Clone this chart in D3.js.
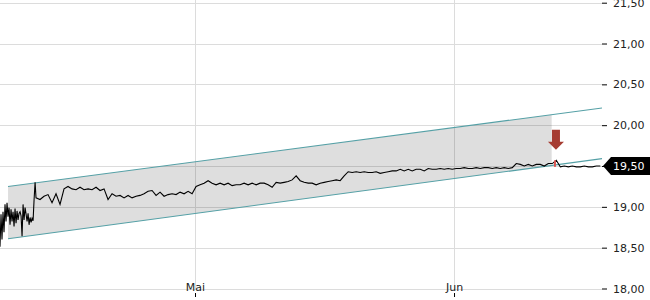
<!DOCTYPE html>
<html>
<head>
<meta charset="utf-8">
<script src="https://cdn.jsdelivr.net/npm/d3@7"></script>
<style>
  body { margin: 0; background: #fff; }
  svg { display: block; font-family: "DejaVu Sans", sans-serif; }
</style>
</head>
<body>
<script>
// Size
var w = 650,
    h = 300,
    plotRight = 602;

// Data: days counted from 1 April (day 0), prices in EUR

// first hours, very choppy (one quote about every 0.12 day)
var earlyStart = 6.66, earlyStep = 0.12;
var earlyPrices = [
  18.51, 18.91, 18.60, 18.94, 18.69, 19.03, 18.82, 19.05, 18.88, 18.99,
  18.78, 18.97, 18.82, 18.94, 18.76, 18.98, 18.80, 18.95, 18.84, 18.92,
  18.94, 18.89, 18.64, 19.03, 18.84, 18.99, 18.91, 18.82, 18.92, 18.78,
  18.87, 18.81, 18.86, 18.83, 19.09, 19.30
];

// rest of the period (one quote about every 0.48 day)
var mainStart = 10.97, mainStep = 0.479;
var prices = [
  19.11, 19.09, 19.13, 19.15, 19.05, 19.16, 19.03, 19.22, 19.25, 19.22,
  19.21, 19.24, 19.21, 19.22, 19.21, 19.24, 19.20, 19.22, 19.09, 19.16,
  19.13, 19.14, 19.11, 19.14, 19.11, 19.13, 19.14, 19.16, 19.19, 19.20,
  19.14, 19.18, 19.13, 19.15, 19.16, 19.15, 19.18, 19.16, 19.19, 19.16,
  19.25, 19.27, 19.29, 19.32, 19.29, 19.27, 19.29, 19.27, 19.29, 19.26,
  19.27, 19.27, 19.29, 19.27, 19.29, 19.27, 19.29, 19.29, 19.27, 19.24,
  19.30, 19.29, 19.30, 19.31, 19.33, 19.38, 19.32, 19.30, 19.29, 19.29,
  19.27, 19.29, 19.30, 19.31, 19.32, 19.33, 19.32, 19.38, 19.43, 19.42,
  19.43, 19.42, 19.43, 19.42, 19.42, 19.43, 19.41, 19.42, 19.43, 19.44,
  19.44, 19.46, 19.44, 19.46, 19.44, 19.46, 19.46, 19.44, 19.47, 19.46,
  19.46, 19.47, 19.46, 19.47, 19.46, 19.47, 19.47, 19.48, 19.47, 19.47,
  19.48, 19.47, 19.48, 19.48, 19.47, 19.48, 19.47, 19.48, 19.47, 19.48,
  19.53, 19.52, 19.50, 19.52, 19.50, 19.52, 19.52, 19.50, 19.53, 19.53,
  19.57, 19.49, 19.50, 19.49, 19.50, 19.49, 19.49, 19.50, 19.49, 19.49,
  19.50, 19.50
];

// trend channel: [day, price] at both ends
var channelDays = [7.62, 78.71];
var channelUpper = [19.25, 20.21];
var channelLower = [18.61, 19.59];
var channelFillEnd = 72.69;

// sell signal
var signalDay = 73.2,
    signalPrice = 19.70,
    signalRange = [19.49, 19.57];

// axis ticks
var yTicks = [18, 18.5, 19, 19.5, 20, 20.5, 21, 21.5];
var monthDays = [30, 61];
var monthLabels = ['Mai', 'Jun'];

// helpers
var day0 = Date.UTC(2024, 3, 1);
function toDate(d) { return new Date(day0 + d * 864e5); }

var series = [];
earlyPrices.forEach(function(p, i) {
  series.push([toDate(earlyStart + i * earlyStep), p]);
});
prices.forEach(function(p, i) {
  series.push([toDate(mainStart + i * mainStep), p]);
});
var lastPrice = prices[prices.length - 1];

// Scales
var xScale = d3.scaleUtc()
               .domain([toDate(6.66), toDate(78.83)])
               .range([0, 603]);

var yScale = d3.scaleLinear()
               .domain([18, 21.5])
               .range([288.5, 2.7]);

var fmt = function(v) { return d3.format('.2f')(v).replace('.', ','); };

var svg = d3.select('body')
            .append('svg')
            .attr('width', w)
            .attr('height', h);

// Grid
svg.append('g')
   .selectAll('line')
   .data(yTicks)
   .enter()
   .append('line')
   .attr('x1', 0)
   .attr('x2', plotRight)
   .attr('y1', function(d) { return Math.round(yScale(d)) + 0.5; })
   .attr('y2', function(d) { return Math.round(yScale(d)) + 0.5; })
   .attr('stroke', '#dcdcdc');

svg.append('g')
   .selectAll('line')
   .data(monthDays)
   .enter()
   .append('line')
   .attr('x1', function(d) { return Math.round(xScale(toDate(d))) + 0.5; })
   .attr('x2', function(d) { return Math.round(xScale(toDate(d))) + 0.5; })
   .attr('y1', 0)
   .attr('y2', 289)
   .attr('stroke', '#dcdcdc');

// Channel fill (cut at the signal)
var frac = (channelFillEnd - channelDays[0]) / (channelDays[1] - channelDays[0]);
var upEnd = channelUpper[0] + frac * (channelUpper[1] - channelUpper[0]);
var loEnd = channelLower[0] + frac * (channelLower[1] - channelLower[0]);
var fillPts = [
  [toDate(channelDays[0]), channelUpper[0]],
  [toDate(channelFillEnd), upEnd],
  [toDate(channelFillEnd), loEnd],
  [toDate(channelDays[0]), channelLower[0]]
];
svg.append('polygon')
   .attr('points', fillPts.map(function(d) {
      return xScale(d[0]) + ',' + yScale(d[1]);
   }).join(' '))
   .attr('fill', 'rgba(0,0,0,0.13)');

// Channel lines
[channelUpper, channelLower].forEach(function(c) {
  svg.append('line')
     .attr('x1', xScale(toDate(channelDays[0])))
     .attr('y1', yScale(c[0]))
     .attr('x2', xScale(toDate(channelDays[1])))
     .attr('y2', yScale(c[1]))
     .attr('stroke', '#55a0a6')
     .attr('stroke-width', 1.1);
});

// Price line
var line = d3.line()
             .x(function(d) { return xScale(d[0]); })
             .y(function(d) { return yScale(d[1]); });

svg.append('path')
   .datum(series)
   .attr('d', line)
   .attr('fill', 'none')
   .attr('stroke', '#000')
   .attr('stroke-width', 1.1);

// Signal mark on the line
svg.append('line')
   .attr('x1', xScale(toDate(signalDay)) - 1)
   .attr('x2', xScale(toDate(signalDay)) - 1)
   .attr('y1', yScale(signalRange[0]))
   .attr('y2', yScale(signalRange[1]))
   .attr('stroke', '#d9534f')
   .attr('stroke-width', 2);

// Arrow
var ax = xScale(toDate(signalDay)),
    ay = yScale(signalPrice);
svg.append('path')
   .attr('d', 'M' + ax + ',' + ay +
              'l-8,-8 l4,0 l0,-12 l8,0 l0,12 l4,0 z')
   .attr('fill', '#a63c32');

// Right axis
var yAxis = d3.axisRight(yScale)
              .tickValues(yTicks)
              .tickSize(5)
              .tickPadding(6)
              .tickFormat(fmt);

var gy = svg.append('g')
   .attr('transform', 'translate(' + plotRight + ',0)')
   .call(yAxis);
gy.select('.domain').remove();
gy.selectAll('text')
  .attr('font-size', 11)
  .attr('font-family', '"DejaVu Sans", sans-serif')
  .attr('fill', '#222');

// Bottom axis
var xAxis = d3.axisBottom(xScale)
              .tickValues(monthDays.map(toDate))
              .tickSize(4)
              .tickFormat(function(d, i) { return monthLabels[i]; });

var gx = svg.append('g')
   .attr('transform', 'translate(0,293)')
   .call(xAxis);
gx.select('.domain').remove();
gx.selectAll('text')
  .attr('y', -2)
  .attr('dy', 0)
  .attr('font-size', 11)
  .attr('font-family', '"DejaVu Sans", sans-serif')
  .attr('fill', '#222');

// Last price label
var ly = Math.round(yScale(lastPrice));
svg.append('path')
   .attr('d', 'M603,' + ly + ' L611,' + (ly - 9) + ' L650,' + (ly - 9) +
              ' L650,' + (ly + 9) + ' L611,' + (ly + 9) + ' Z')
   .attr('fill', '#000');

svg.append('text')
   .attr('x', 613)
   .attr('y', ly)
   .attr('dy', '0.35em')
   .attr('font-size', 11)
   .attr('fill', '#fff')
   .text(fmt(lastPrice));
</script>
</body>
</html>
